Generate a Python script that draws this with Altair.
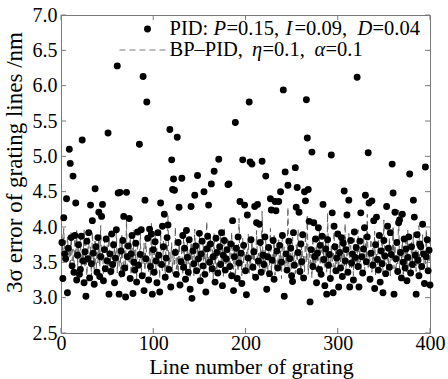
import altair as alt
import pandas as pd

# PID: 3-sigma error per grating line (line numbers 1..400)
pid_values = [
    3.78, 3.27, 4.13, 3.62, 3.55, 4.40, 3.07, 3.70, 5.10, 4.90, 3.85, 3.45, 4.72, 3.36, 3.88, 4.34, 3.25, 3.60, 3.75, 3.33,
    3.40, 3.87, 5.23, 3.52, 3.21, 3.65, 3.02, 3.80, 3.55, 3.92, 3.28, 4.31, 3.48, 4.09, 3.63, 3.19, 4.54, 3.72, 3.36, 3.85,
    4.21, 3.30, 3.58, 4.15, 4.32, 3.24, 3.68, 3.41, 3.83, 3.52, 5.33, 3.05, 3.62, 3.37, 3.90, 3.47, 3.75, 3.21, 3.56, 3.96,
    6.28, 4.48, 3.05, 4.49, 3.66, 3.34, 3.81, 4.15, 3.42, 3.01, 4.49, 3.58, 3.73, 4.12, 3.27, 3.62, 3.88, 3.06, 3.50, 3.39,
    3.77, 3.22, 3.93, 3.46, 5.17, 3.61, 3.96, 3.31, 6.13, 3.10, 4.38, 3.55, 5.77, 3.84, 3.25, 3.97, 3.44, 3.90, 3.05, 3.68,
    3.36, 3.79, 3.52, 3.21, 3.92, 3.60, 3.08, 4.34, 3.47, 4.01, 3.72, 4.18, 3.29, 3.56, 3.85, 4.03, 3.40, 5.38, 3.15, 4.95,
    4.53, 4.68, 4.52, 3.64, 3.33, 5.27, 3.78, 4.28, 3.18, 3.51, 4.69, 3.88, 3.43, 3.70, 3.26, 3.95, 3.57, 3.36, 3.82, 3.12,
    4.29, 2.99, 3.66, 3.48, 4.45, 3.73, 3.38, 4.73, 3.55, 3.91, 3.24, 3.62, 3.80, 3.45, 4.50, 3.33, 3.08, 3.69, 3.87, 4.31,
    3.50, 3.76, 4.61, 3.41, 3.58, 4.79, 3.22, 3.84, 3.64, 3.35, 4.96, 3.72, 3.47, 3.92, 3.17, 3.60, 3.81, 3.39, 3.55, 3.68,
    4.60, 4.61, 3.44, 3.76, 3.31, 4.09, 3.10, 3.58, 5.48, 3.70, 3.27, 3.86, 3.49, 4.36, 3.63, 3.20, 4.95, 3.74, 4.31, 3.38,
    3.04, 4.17, 3.56, 5.77, 4.92, 3.82, 4.89, 3.43, 3.65, 4.29, 3.29, 4.06, 4.32, 3.52, 4.04, 3.78, 3.36, 4.93, 3.60, 3.47,
    3.86, 4.72, 3.12, 3.58, 3.71, 3.34, 4.40, 4.24, 3.53, 3.81, 3.26, 4.36, 4.23, 3.66, 3.42, 4.36, 3.74, 4.50, 3.50, 3.88,
    5.94, 3.02, 4.78, 3.62, 3.39, 4.59, 3.80, 3.55, 3.70, 3.31, 3.23, 3.92, 3.46, 4.84, 4.28, 4.56, 3.64, 4.21, 3.37, 3.76,
    3.51, 3.89, 3.28, 4.50, 4.37, 5.80, 5.26, 4.53, 4.08, 2.94, 3.68, 5.06, 3.44, 4.06, 3.58, 3.83, 3.21, 3.63, 3.99, 3.40,
    3.74, 3.33, 3.87, 4.32, 3.54, 3.17, 3.69, 3.05, 3.82, 3.46, 3.61, 3.27, 5.02, 4.20, 3.07, 4.01, 3.72, 3.38, 3.56, 3.90,
    3.15, 3.64, 3.42, 3.85, 3.30, 3.77, 4.51, 3.52, 3.68, 4.17, 3.36, 4.38, 3.15, 3.81, 3.49, 3.62, 3.25, 3.93, 3.57, 3.71,
    6.12, 3.44, 3.15, 3.80, 4.20, 3.58, 3.35, 3.69, 3.99, 4.45, 3.51, 3.86, 5.05, 4.34, 3.26, 3.63, 4.37, 3.46, 4.09, 3.13,
    3.75, 4.14, 3.54, 3.39, 3.88, 3.22, 3.66, 3.48, 3.07, 3.81, 3.59, 3.34, 4.29, 4.01, 3.70, 3.43, 3.92, 3.61, 4.89, 4.48,
    3.05, 4.21, 3.55, 3.78, 3.37, 4.06, 4.10, 3.64, 3.28, 4.18, 3.50, 3.83, 3.42, 3.69, 3.24, 3.57, 3.86, 4.75, 3.35, 3.72,
    3.47, 4.38, 4.14, 3.60, 3.05, 3.89, 3.53, 3.31, 3.76, 3.72, 3.44, 4.04, 3.62, 3.20, 4.85, 3.58, 3.82, 3.38, 3.67, 3.18,
]

# BP-PID: 3-sigma error per grating line (line numbers 1..400)
bp_values = [
    3.90, 3.62, 3.98, 3.55, 3.81, 3.47, 3.86, 3.60, 3.74, 3.41, 3.92, 3.52, 3.69, 3.38, 3.84, 3.57, 3.95, 3.44, 3.71, 3.50,
    3.88, 3.36, 3.66, 3.53, 3.97, 3.42, 3.78, 3.31, 3.63, 3.85, 3.46, 3.72, 3.29, 3.93, 3.58, 3.40, 3.80, 3.34, 3.67, 3.49,
    3.87, 3.43, 4.02, 3.51, 3.70, 3.33, 3.83, 3.56, 3.39, 3.76, 3.45, 3.91, 3.30, 3.65, 3.54, 3.82, 3.37, 3.73, 3.48, 3.99,
    3.35, 3.64, 3.44, 3.79, 3.28, 3.88, 3.52, 3.40, 3.75, 3.47, 4.10, 3.36, 3.61, 3.50, 3.86, 3.32, 3.70, 3.43, 3.95, 3.39,
    3.68, 3.26, 3.81, 3.53, 3.42, 3.90, 3.34, 3.62, 3.48, 3.77, 3.31, 3.85, 3.46, 3.58, 3.37, 3.72, 3.29, 4.05, 3.41, 3.66,
    3.52, 3.89, 3.33, 3.71, 3.45, 3.60, 3.27, 3.94, 3.49, 3.38, 3.80, 3.55, 3.30, 3.87, 3.42, 4.16, 3.36, 3.64, 3.51, 3.78,
    3.34, 3.69, 3.47, 4.00, 3.40, 3.57, 3.28, 3.83, 3.53, 3.39, 3.74, 3.32, 3.92, 3.46, 3.61, 3.35, 3.79, 3.48, 3.66, 3.30,
    3.86, 3.43, 3.59, 3.31, 3.97, 3.50, 3.37, 3.73, 3.44, 3.88, 3.29, 3.65, 3.54, 3.81, 3.36, 3.70, 3.41, 4.08, 3.47, 3.58,
    3.33, 3.84, 3.49, 3.68, 3.27, 3.91, 3.45, 3.62, 3.38, 3.76, 3.52, 3.35, 3.87, 3.43, 3.71, 3.30, 3.99, 3.48, 3.56, 3.39,
    3.82, 3.46, 3.64, 3.32, 3.93, 3.51, 3.40, 3.78, 3.28, 3.69, 3.55, 3.37, 4.12, 3.44, 3.60, 3.31, 3.85, 3.49, 3.73, 3.36,
    3.66, 3.42, 3.90, 3.34, 3.58, 3.47, 3.80, 3.30, 3.71, 3.53, 3.39, 3.95, 3.45, 3.63, 3.33, 3.77, 3.50, 4.22, 3.41, 3.67,
    3.37, 3.84, 3.52, 3.29, 3.74, 3.46, 3.98, 3.35, 3.61, 3.48, 3.88, 3.32, 3.69, 3.55, 3.43, 3.82, 3.38, 3.66, 3.27, 3.92,
    3.49, 3.72, 3.36, 3.60, 3.44, 4.28, 3.40, 3.79, 3.53, 3.31, 3.86, 3.47, 3.64, 3.34, 3.75, 3.51, 3.96, 3.42, 3.68, 3.30,
    3.81, 3.45, 3.59, 3.37, 3.90, 3.50, 4.15, 3.33, 3.70, 3.48, 3.62, 3.28, 3.87, 3.44, 3.73, 3.39, 3.83, 3.55, 3.35, 3.97,
    3.46, 3.68, 3.32, 3.79, 3.52, 3.41, 3.89, 3.36, 4.20, 3.49, 3.65, 3.30, 3.76, 3.54, 3.43, 3.93, 3.38, 3.71, 3.47, 3.60,
    3.34, 3.86, 3.51, 3.67, 3.29, 3.80, 3.45, 4.05, 3.37, 3.63, 3.50, 3.91, 3.33, 3.74, 3.42, 3.58, 3.31, 3.84, 3.48, 3.69,
    3.39, 3.96, 3.44, 3.72, 3.35, 3.61, 3.53, 3.88, 3.30, 3.77, 3.46, 4.18, 3.40, 3.66, 3.52, 3.83, 3.36, 3.70, 3.49, 3.94,
    3.32, 3.64, 3.47, 3.81, 3.38, 3.57, 3.43, 3.90, 3.34, 4.10, 3.50, 3.73, 3.37, 3.62, 3.45, 3.85, 3.31, 3.68, 3.54, 3.99,
    3.41, 3.75, 3.35, 3.59, 3.48, 4.24, 3.39, 3.70, 3.52, 3.87, 3.33, 3.65, 3.46, 3.80, 3.36, 3.96, 3.44, 3.61, 3.30, 3.78,
    3.50, 3.92, 3.42, 3.67, 3.37, 3.83, 3.47, 4.02, 3.34, 3.71, 3.55, 3.89, 3.40, 3.63, 3.48, 3.97, 3.43, 3.74, 3.52, 3.85,
]

line_numbers = list(range(1, 401))
x_ticks = [0, 100, 200, 300, 400]
y_ticks = [2.5, 3.0, 3.5, 4.0, 4.5, 5.0, 5.5, 6.0, 6.5, 7.0]

x_title = "Line number of grating"
y_title = "3σ error of grating lines /nm"

FONT = "Liberation Serif"
W, H = 369, 318
GRAY = "#7a7a7a"
LINE_GRAY = "#5e5e5e"

df = pd.DataFrame({"line": line_numbers, "pid": pid_values, "bp": bp_values})

xscale = alt.Scale(domain=[0, 400], nice=False, zero=False)
yscale = alt.Scale(domain=[2.5, 7.0], nice=False, zero=False)

axis_style = dict(domain=False, ticks=False, tickSize=0, grid=False, labelFlush=False,
                  labelFont=FONT, labelFontSize=20, labelColor="black",
                  titleFont=FONT, titleFontWeight="normal", titleColor="black")
x_axis = alt.Axis(values=x_ticks, format="d", labelPadding=0, title=x_title,
                  titleFontSize=22, titleBaseline="alphabetic", titleX=190, titleY=40,
                  **axis_style)
y_axis = alt.Axis(values=y_ticks, format=".1f", labelPadding=4, title=y_title,
                  titleFontSize=23, titlePadding=6, titleY=147, **axis_style)


def X(field):
    return alt.X(field, scale=xscale, axis=x_axis)


def Y(field):
    return alt.Y(field, scale=yscale, axis=y_axis)


line = alt.Chart(df).mark_line(color=LINE_GRAY, strokeWidth=1, strokeDash=[6, 4]).encode(
    x=X("line:Q"), y=Y("bp:Q"),
)

points = alt.Chart(df).mark_point(filled=True, color="black", size=48, opacity=1).encode(
    x=X("line:Q"), y=Y("pid:Q"),
)

xt = pd.DataFrame({"v": x_ticks})
yt = pd.DataFrame({"v": y_ticks})
tick_style = dict(color=GRAY, strokeWidth=1)
xb = alt.Chart(xt).mark_rule(**tick_style).encode(
    x=X("v:Q"), y=alt.value(H), y2=alt.value(H - 5))
xtop = alt.Chart(xt).mark_rule(**tick_style).encode(
    x=X("v:Q"), y=alt.value(0), y2=alt.value(5))
yl = alt.Chart(yt).mark_rule(**tick_style).encode(
    y=Y("v:Q"), x=alt.value(0), x2=alt.value(5))
yr = alt.Chart(yt).mark_rule(**tick_style).encode(
    y=Y("v:Q"), x=alt.value(W), x2=alt.value(W - 5))

# manual legend (pixel offsets inside the plot area)
LX = 108.5
R1, R2 = 14, 35
legend_dot = alt.Chart(pd.DataFrame({"a": [0]})).mark_point(
    filled=True, color="black", size=48, opacity=1).encode(x=alt.value(86.5), y=alt.value(R1))
legend_dash = alt.Chart(pd.DataFrame({"a": [0]})).mark_rule(
    color=GRAY, strokeWidth=1, strokeDash=[6, 4]).encode(
    x=alt.value(58.5), x2=alt.value(107), y=alt.value(R2))

pieces_row1 = [("PID: ", 0, "normal"), ("P", 44, "italic"), ("=0.15, ", 57, "normal"),
               ("I", 116, "italic"), ("=0.09, ", 125, "normal"), ("D", 188, "italic"),
               ("=0.04", 203, "normal")]
pieces_row2 = [("BP–PID, ", 0, "normal"), ("η", 82.5, "italic"), ("=0.1, ", 93, "normal"),
               ("α", 145, "italic"), ("=0.1", 156, "normal")]

legend_texts = []
for row_y, pieces in ((R1, pieces_row1), (R2, pieces_row2)):
    for txt, dx, style in pieces:
        legend_texts.append(
            alt.Chart(pd.DataFrame({"t": [txt]})).mark_text(
                align="left", baseline="middle", font=FONT, fontSize=20.5,
                fontStyle=style, color="black").encode(
                x=alt.value(LX + dx), y=alt.value(row_y), text="t:N")
        )

chart = alt.layer(line, points, xb, xtop, yl, yr, legend_dot, legend_dash, *legend_texts).properties(
    width=W, height=H,
    background="white",
    autosize=alt.AutoSizeParams(type="none"),
    padding={"left": 61, "top": 15, "right": 18, "bottom": 46},
).configure_view(stroke=GRAY, strokeWidth=1)

chart.save("out.html", embed_options={"renderer": "svg", "actions": False})
